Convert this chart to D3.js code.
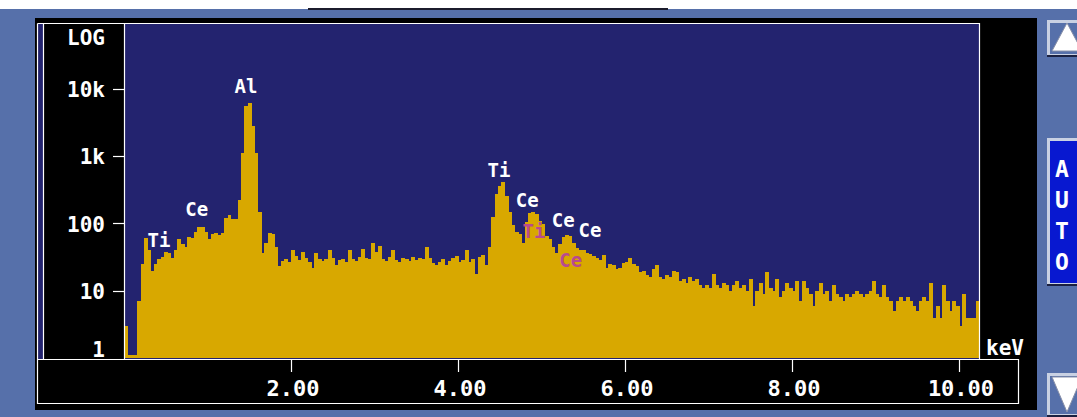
<!DOCTYPE html>
<html>
<head>
<meta charset="utf-8">
<script src="https://cdn.jsdelivr.net/npm/d3@7"></script>
<style>
  html, body { margin: 0; padding: 0; background: #fff; }
  svg { display: block; }
  text { font-family: "DejaVu Sans Mono", monospace; font-weight: bold; }
</style>
</head>
<body>
<svg width="1077" height="417"></svg>
<script>
// spectrum: 40 eV channels starting at 0 keV
const channelWidth = 0.04;
const counts = [
  3, 1.1, 1.1, 1.1, 7, 25, 60, 40, 20, 25,
  30, 32, 38, 36, 31, 40, 58, 50, 45, 62,
  60, 75, 88, 90, 76, 58, 70, 73, 68, 72,
  122, 136, 115, 116, 225, 1100, 5600, 6200, 2800, 1100,
  150, 37, 52, 73, 70, 45, 23, 28, 30, 27,
  40, 33, 29, 38, 31, 27, 22, 36, 30, 28,
  30, 40, 31, 24, 29, 30, 27, 41, 30, 28,
  32, 42, 31, 30, 52, 38, 46, 30, 28, 32,
  40, 29, 27, 31, 30, 28, 32, 29, 31, 30,
  44, 31, 26, 24, 27, 30, 24, 28, 31, 33,
  27, 29, 40, 27, 30, 18, 32, 34, 24, 44,
  127, 270, 360, 410, 260, 150, 95, 75, 70, 52,
  105, 145, 150, 140, 110, 100, 65, 58, 45, 37,
  50, 62, 68, 66, 52, 43, 41, 40, 36, 35,
  33, 31, 29, 34, 22, 25, 24, 21, 22, 26,
  27, 31, 25, 23, 19, 20, 17, 16, 21, 24,
  16, 15, 17, 16, 20, 19, 14, 15, 13, 16,
  14, 15, 12, 11, 12, 11, 18, 12, 11, 13,
  12, 10, 12, 14, 11, 12, 10, 15, 6, 10,
  13, 9, 19, 11, 10, 15, 8, 10, 13, 11,
  10, 14, 7, 14, 11, 9, 6, 10, 13, 9,
  10, 7, 12, 9, 8, 7, 9, 8, 9, 10,
  9, 8, 9, 10, 14, 9, 8, 12, 8, 7,
  5, 7, 8, 7, 8, 7, 6, 5, 7, 8,
  7, 13, 4, 6, 4, 12, 7, 5, 7, 6,
  3, 9, 4, 4, 4, 7
];

const yTickValues = [10, 100, 1000, 10000];
const yTickLabels = ["10", "100", "1k", "10k"];
const xTickValues = [2, 4, 6, 8, 10];

// peak markers: centre energy (keV) and the count level the label sits on
const lineNames  = ["Ti", "Ce", "Al", "Ti", "Ce", "Ti", "Ce", "Ce", "Ce"];
const lineKeV    = [0.42, 0.87, 1.46, 4.49, 4.83, 4.91, 5.26, 5.58, 5.35];
const lineLevels = [45, 129, 8730, 492, 176, 61, 89, 63, 22.5];
const lineMinor  = [false, false, false, false, false, true, false, false, true];

const svg = d3.select("svg");
const W = 1077, H = 417;
const plot = { left: 124.5, right: 979.5, top: 23.5, bottom: 358 };

const x = d3.scaleLinear().domain([0, 10]).range([124, 959]);
const y = d3.scaleLog().domain([1, 1e5]).range([358, 358 - 5 * 67.25]);

const navy = "#23236f", gold = "#d8a800", frame = "#5670aa";

// window chrome
svg.append("rect").attr("width", W).attr("height", H).attr("fill", "#fff");
svg.append("rect").attr("y", 9).attr("width", W).attr("height", H - 9).attr("fill", frame);
svg.append("rect").attr("x", 308).attr("y", 8).attr("width", 360).attr("height", 2).attr("fill", "#1c1c2c");
svg.append("rect").attr("x", 35).attr("y", 18).attr("width", 1002).attr("height", 392).attr("fill", "#000");
svg.append("rect").attr("x", 38).attr("y", 24).attr("width", 5.5).attr("height", 335).attr("fill", navy);

// plot background
svg.append("rect").attr("x", plot.left).attr("y", plot.top)
  .attr("width", plot.right - plot.left).attr("height", plot.bottom - plot.top + 1)
  .attr("fill", navy);

svg.append("clipPath").attr("id", "clip").append("rect")
  .attr("x", plot.left).attr("y", plot.top)
  .attr("width", plot.right - plot.left - 0.5).attr("height", plot.bottom - plot.top);

// spectrum bars
svg.append("g").attr("clip-path", "url(#clip)")
  .selectAll("rect").data(counts).join("rect")
  .attr("x", (d, i) => x(i * channelWidth))
  .attr("y", d => y(Math.max(d, 1)))
  .attr("width", x(channelWidth) - x(0) + 0.6)
  .attr("height", d => plot.bottom - y(Math.max(d, 1)))
  .attr("fill", gold)
  .attr("shape-rendering", "crispEdges");

// white frame lines
const lines = svg.append("g").attr("stroke", "#fff").attr("stroke-width", 1.2).attr("fill", "none");
lines.append("path").attr("d", "M37.5,23.5H979.5V359.5");
lines.append("path").attr("d", "M37.5,23.5V403.5H1018.5V359.5H37.5");
lines.append("path").attr("d", "M43.5,23.5V359.5");
lines.append("path").attr("d", "M124.5,23.5V359.5");

// y axis
const yAxis = svg.append("g");
yAxis.selectAll("line").data(yTickValues).join("line")
  .attr("x1", 113).attr("x2", 124)
  .attr("y1", d => Math.round(y(d)) + 0.5).attr("y2", d => Math.round(y(d)) + 0.5)
  .attr("stroke", "#fff").attr("stroke-width", 1.2);
yAxis.selectAll("text").data(yTickValues).join("text")
  .attr("x", 105).attr("y", d => y(d) + 8)
  .attr("text-anchor", "end").attr("fill", "#fff").attr("font-size", 21)
  .text((d, i) => yTickLabels[i]);
svg.append("text").attr("x", 105).attr("y", 357).attr("text-anchor", "end")
  .attr("fill", "#fff").attr("font-size", 21).text("1");
svg.append("text").attr("x", 105).attr("y", 45).attr("text-anchor", "end")
  .attr("fill", "#fff").attr("font-size", 21).text("LOG");

// x axis
const xAxis = svg.append("g");
xAxis.selectAll("line").data(xTickValues).join("line")
  .attr("x1", d => Math.round(x(d)) + 0.5).attr("x2", d => Math.round(x(d)) + 0.5)
  .attr("y1", 360).attr("y2", 372)
  .attr("stroke", "#fff").attr("stroke-width", 1.2);
xAxis.selectAll("text").data(xTickValues).join("text")
  .attr("x", d => x(d) + 2).attr("y", 396)
  .attr("text-anchor", "middle").attr("fill", "#fff").attr("font-size", 22)
  .text(d => d.toFixed(2));
svg.append("text").attr("x", 986).attr("y", 355).attr("fill", "#fff")
  .attr("font-size", 21).text("keV");

// peak labels
svg.append("g").selectAll("text").data(lineNames).join("text")
  .attr("x", (d, i) => x(lineKeV[i]))
  .attr("y", (d, i) => y(lineLevels[i]))
  .attr("text-anchor", "middle").attr("font-size", 19)
  .attr("fill", (d, i) => lineMinor[i] ? "#b84a90" : "#fff")
  .text(d => d);

// side buttons
function bevel(x0, y0, w, h, fill) {
  const g = svg.append("g");
  g.append("rect").attr("x", x0).attr("y", y0).attr("width", w).attr("height", h).attr("fill", "#1a2040");
  g.append("rect").attr("x", x0).attr("y", y0).attr("width", w - 2).attr("height", h - 2).attr("fill", "#c9d1e3");
  g.append("rect").attr("x", x0 + 3).attr("y", y0 + 3).attr("width", w - 6).attr("height", h - 6).attr("fill", fill);
  return g;
}
bevel(1047, 20, 33, 37, frame)
  .append("path").attr("d", "M1067,23L1052,51H1082Z").attr("fill", "#fff").attr("stroke", "#8890a8");
bevel(1047, 373, 33, 44, frame)
  .append("path").attr("d", "M1052,377H1082L1067,412Z").attr("fill", "#fff").attr("stroke", "#8890a8");
const auto = bevel(1047, 138, 33, 148, "#0818d0");
auto.selectAll("text").data(["A", "U", "T", "O"]).join("text")
  .attr("x", 1062).attr("y", (d, i) => 177 + i * 31)
  .attr("text-anchor", "middle").attr("fill", "#fff").attr("font-size", 23)
  .text(d => d);
</script>
</body>
</html>
